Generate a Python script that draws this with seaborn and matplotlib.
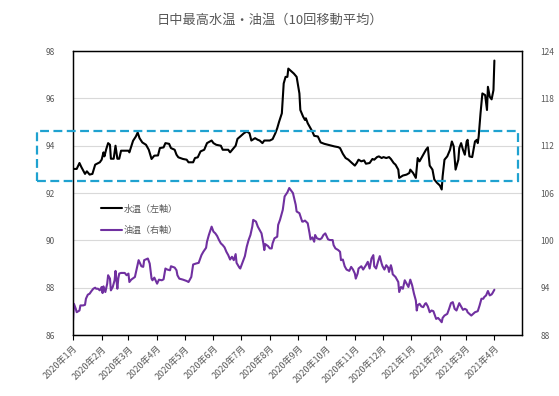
import seaborn as sns
import matplotlib.pyplot as plt
import pandas as pd
from matplotlib.patches import Rectangle

# 水温 (left axis)
water_dates = [
    '2020-01-01', '2020-01-05', '2020-01-08', '2020-01-10', '2020-01-14', '2020-01-16', '2020-01-19', '2020-01-22',
    '2020-01-25', '2020-01-30', '2020-02-01', '2020-02-03', '2020-02-04', '2020-02-06', '2020-02-08', '2020-02-10',
    '2020-02-11', '2020-02-14', '2020-02-16', '2020-02-18', '2020-02-20', '2020-02-22', '2020-03-01', '2020-03-02',
    '2020-03-06', '2020-03-09', '2020-03-11', '2020-03-13', '2020-03-16', '2020-03-20', '2020-03-23', '2020-03-26',
    '2020-03-29', '2020-04-02', '2020-04-04', '2020-04-08', '2020-04-10', '2020-04-14', '2020-04-16', '2020-04-20',
    '2020-04-22', '2020-04-24', '2020-04-29', '2020-05-03', '2020-05-05', '2020-05-10', '2020-05-12', '2020-05-15',
    '2020-05-18', '2020-05-22', '2020-05-25', '2020-05-30', '2020-06-01', '2020-06-04', '2020-06-09', '2020-06-11',
    '2020-06-17', '2020-06-19', '2020-06-22', '2020-06-25', '2020-06-27', '2020-06-30', '2020-07-04', '2020-07-07',
    '2020-07-10', '2020-07-12', '2020-07-16', '2020-07-19', '2020-07-21', '2020-07-24', '2020-07-26', '2020-08-01',
    '2020-08-04', '2020-08-07', '2020-08-09', '2020-08-11', '2020-08-14', '2020-08-16', '2020-08-18', '2020-08-20',
    '2020-08-21', '2020-08-23', '2020-08-27', '2020-08-30', '2020-09-02', '2020-09-03', '2020-09-06', '2020-09-08',
    '2020-09-09', '2020-09-11', '2020-09-13', '2020-09-16', '2020-09-18', '2020-09-22', '2020-09-25', '2020-09-29',
    '2020-10-03', '2020-10-07', '2020-10-10', '2020-10-14', '2020-10-16', '2020-10-19', '2020-10-22', '2020-10-25',
    '2020-10-28', '2020-11-01', '2020-11-03', '2020-11-05', '2020-11-08', '2020-11-11', '2020-11-13', '2020-11-17',
    '2020-11-20', '2020-11-22', '2020-11-25', '2020-11-27', '2020-11-30', '2020-12-02', '2020-12-05', '2020-12-08',
    '2020-12-10', '2020-12-13', '2020-12-15', '2020-12-18', '2020-12-19', '2020-12-23', '2020-12-27', '2020-12-30',
    '2020-12-31', '2021-01-03', '2021-01-06', '2021-01-08', '2021-01-10', '2021-01-13', '2021-01-17', '2021-01-19',
    '2021-01-21', '2021-01-24', '2021-01-26', '2021-01-29', '2021-02-01', '2021-02-03', '2021-02-04', '2021-02-06',
    '2021-02-09', '2021-02-12', '2021-02-14', '2021-02-16', '2021-02-18', '2021-02-21', '2021-02-22', '2021-02-24',
    '2021-02-26', '2021-02-28', '2021-03-02', '2021-03-03', '2021-03-05', '2021-03-08', '2021-03-11', '2021-03-13',
    '2021-03-14', '2021-03-15', '2021-03-17', '2021-03-19', '2021-03-22', '2021-03-24', '2021-03-25', '2021-03-27',
    '2021-03-29', '2021-03-31', '2021-04-01',
]
water_temp = [
    93.02, 93.02, 93.27, 93.10, 92.81, 92.92, 92.78, 92.81,
    93.20, 93.30, 93.41, 93.72, 93.55, 93.86, 94.11, 94.04,
    93.45, 93.45, 94.00, 93.45, 93.45, 93.79, 93.79, 93.72,
    94.21, 94.39, 94.56, 94.32, 94.14, 94.04, 93.83, 93.44,
    93.58, 93.59, 93.90, 93.93, 94.11, 94.08, 93.90, 93.83,
    93.62, 93.51, 93.44, 93.41, 93.30, 93.30, 93.48, 93.51,
    93.76, 93.83, 94.11, 94.22, 94.11, 94.04, 94.00, 93.83,
    93.83, 93.72, 93.86, 94.00, 94.29, 94.39, 94.53, 94.60,
    94.53, 94.22, 94.32, 94.25, 94.22, 94.11, 94.22, 94.22,
    94.28, 94.53, 94.74, 95.01, 95.37, 96.63, 96.91, 96.91,
    97.26, 97.19, 97.05, 96.91, 96.21, 95.51, 95.23, 95.09,
    95.16, 94.95, 94.81, 94.60, 94.42, 94.39, 94.14, 94.08,
    94.04, 94.00, 93.97, 93.94, 93.90, 93.66, 93.48, 93.41,
    93.30, 93.16, 93.27, 93.41, 93.34, 93.38, 93.24, 93.27,
    93.44, 93.41, 93.52, 93.55, 93.48, 93.52, 93.48, 93.52,
    93.44, 93.27, 93.20, 92.99, 92.64, 92.74, 92.78, 92.85,
    92.99, 92.85, 92.64, 93.48, 93.34, 93.55, 93.83, 93.93,
    93.16, 92.99, 92.57, 92.43, 92.32, 92.15, 92.71, 93.41,
    93.55, 93.83, 94.18, 93.97, 92.99, 93.41, 93.90, 94.11,
    93.83, 93.62, 94.18, 94.25, 93.55, 93.52, 94.18, 94.25,
    94.11, 94.39, 95.37, 96.21, 96.14, 95.51, 96.49, 96.07,
    95.96, 96.35, 97.60,
]

# 油温 (right axis)
oil_dates = [
    '2020-01-01', '2020-01-02', '2020-01-04', '2020-01-05', '2020-01-08', '2020-01-09', '2020-01-12', '2020-01-14',
    '2020-01-15', '2020-01-17', '2020-01-19', '2020-01-21', '2020-01-23', '2020-01-25', '2020-01-26', '2020-01-28',
    '2020-01-30', '2020-02-01', '2020-02-02', '2020-02-03', '2020-02-05', '2020-02-07', '2020-02-08', '2020-02-10',
    '2020-02-11', '2020-02-13', '2020-02-15', '2020-02-16', '2020-02-18', '2020-02-19', '2020-02-20', '2020-02-22',
    '2020-02-26', '2020-02-28', '2020-03-01', '2020-03-02', '2020-03-04', '2020-03-08', '2020-03-10', '2020-03-12',
    '2020-03-15', '2020-03-17', '2020-03-18', '2020-03-22', '2020-03-24', '2020-03-26', '2020-03-27', '2020-03-29',
    '2020-04-01', '2020-04-03', '2020-04-06', '2020-04-08', '2020-04-10', '2020-04-12', '2020-04-15', '2020-04-16',
    '2020-04-20', '2020-04-22', '2020-04-23', '2020-04-25', '2020-04-29', '2020-05-03', '2020-05-05', '2020-05-08',
    '2020-05-10', '2020-05-13', '2020-05-16', '2020-05-19', '2020-05-21', '2020-05-24', '2020-05-25', '2020-05-27',
    '2020-05-29', '2020-05-30', '2020-06-01', '2020-06-03', '2020-06-05', '2020-06-07', '2020-06-09', '2020-06-11',
    '2020-06-13', '2020-06-15', '2020-06-17', '2020-06-19', '2020-06-21', '2020-06-23', '2020-06-25', '2020-06-26',
    '2020-06-29', '2020-06-30', '2020-07-02', '2020-07-05', '2020-07-07', '2020-07-09', '2020-07-11', '2020-07-13',
    '2020-07-14', '2020-07-17', '2020-07-19', '2020-07-21', '2020-07-23', '2020-07-25', '2020-07-26', '2020-07-27',
    '2020-07-30', '2020-08-01', '2020-08-03', '2020-08-04', '2020-08-06', '2020-08-09', '2020-08-10', '2020-08-12',
    '2020-08-14', '2020-08-15', '2020-08-17', '2020-08-20', '2020-08-22', '2020-08-26', '2020-08-29', '2020-08-30',
    '2020-09-02', '2020-09-05', '2020-09-06', '2020-09-08', '2020-09-11', '2020-09-13', '2020-09-14', '2020-09-16',
    '2020-09-18', '2020-09-19', '2020-09-21', '2020-09-24', '2020-09-26', '2020-09-28', '2020-09-30', '2020-10-03',
    '2020-10-05', '2020-10-08', '2020-10-09', '2020-10-11', '2020-10-14', '2020-10-16', '2020-10-17', '2020-10-19',
    '2020-10-21', '2020-10-23', '2020-10-26', '2020-10-28', '2020-10-30', '2020-11-01', '2020-11-02', '2020-11-04',
    '2020-11-05', '2020-11-08', '2020-11-10', '2020-11-13', '2020-11-15', '2020-11-17', '2020-11-19', '2020-11-21',
    '2020-11-22', '2020-11-24', '2020-11-26', '2020-11-28', '2020-11-30', '2020-12-01', '2020-12-03', '2020-12-05',
    '2020-12-07', '2020-12-08', '2020-12-10', '2020-12-11', '2020-12-12', '2020-12-15', '2020-12-18', '2020-12-19',
    '2020-12-21', '2020-12-23', '2020-12-25', '2020-12-27', '2020-12-29', '2020-12-31', '2021-01-02', '2021-01-04',
    '2021-01-06', '2021-01-07', '2021-01-08', '2021-01-10', '2021-01-12', '2021-01-14', '2021-01-16', '2021-01-17',
    '2021-01-19', '2021-01-21', '2021-01-23', '2021-01-25', '2021-01-27', '2021-01-28', '2021-01-30', '2021-02-01',
    '2021-02-03', '2021-02-04', '2021-02-06', '2021-02-09', '2021-02-11', '2021-02-13', '2021-02-15', '2021-02-17',
    '2021-02-19', '2021-02-21', '2021-02-22', '2021-02-24', '2021-02-26', '2021-02-28', '2021-03-02', '2021-03-03',
    '2021-03-05', '2021-03-07', '2021-03-09', '2021-03-11', '2021-03-14', '2021-03-16', '2021-03-18', '2021-03-20',
    '2021-03-21', '2021-03-23', '2021-03-25', '2021-03-27', '2021-03-29', '2021-03-30', '2021-04-01',
]
oil_temp = [
    89.83, 91.96, 91.32, 90.89, 91.11, 91.75, 91.75, 91.83,
    92.60, 93.11, 93.24, 93.58, 93.87, 94.00, 93.87, 93.87,
    93.66, 94.09, 93.32, 94.17, 93.45, 94.51, 95.58, 95.15,
    93.66, 94.09, 94.94, 96.13, 93.87, 95.15, 95.79, 95.87,
    95.87, 95.58, 95.79, 94.72, 95.02, 95.36, 96.43, 97.49,
    96.72, 96.64, 97.49, 97.70, 97.06, 95.15, 94.94, 95.28,
    94.51, 95.02, 94.94, 95.06, 96.43, 96.30, 96.21, 96.72,
    96.55, 96.21, 95.58, 95.15, 95.02, 94.85, 94.72, 95.36,
    96.94, 97.06, 97.15, 98.13, 98.55, 99.06, 99.83, 100.68,
    101.40, 101.74, 101.11, 100.89, 100.55, 100.04, 99.62, 99.40,
    99.11, 98.55, 98.13, 97.57, 97.92, 97.49, 98.26, 97.15,
    96.55, 96.43, 97.06, 98.00, 99.19, 100.04, 100.68, 101.74,
    102.60, 102.38, 101.74, 101.32, 100.89, 99.62, 98.77, 99.53,
    99.28, 98.98, 98.98, 99.62, 100.26, 100.47, 101.96, 102.60,
    103.45, 103.87, 105.57, 106.09, 106.64, 106.00, 104.51, 103.66,
    103.45, 102.38, 102.38, 102.51, 102.17, 100.89, 100.13, 100.38,
    99.83, 100.68, 100.26, 100.13, 100.26, 100.68, 100.89, 100.13,
    100.04, 100.04, 99.40, 98.98, 98.77, 98.55, 97.49, 97.57,
    96.72, 96.30, 96.13, 96.64, 96.30, 95.79, 95.15, 95.79,
    96.43, 96.72, 96.30, 96.85, 97.28, 96.43, 97.70, 98.13,
    96.72, 96.43, 97.28, 98.00, 97.06, 96.72, 96.30, 96.85,
    96.55, 96.00, 96.85, 96.43, 95.70, 95.36, 94.72, 93.45,
    94.09, 93.87, 94.94, 94.51, 94.09, 95.02, 94.30, 93.24,
    92.38, 91.11, 91.75, 91.96, 91.62, 91.53, 91.96, 92.04,
    91.62, 90.89, 91.11, 91.02, 90.34, 90.04, 90.17, 89.92,
    89.62, 90.17, 90.47, 90.68, 91.32, 92.04, 92.17, 91.32,
    91.11, 91.75, 92.04, 91.62, 91.19, 91.32, 91.19, 90.89,
    90.68, 90.47, 90.68, 90.89, 91.02, 91.75, 92.60, 92.60,
    92.81, 93.02, 93.58, 93.02, 93.15, 93.32, 93.74,
]

left_ticks = [86, 88, 90, 92, 94, 96, 98]
right_ticks = [88, 94, 100, 106, 112, 118, 124]
month_ticks = pd.date_range('2020-01-01', '2021-04-01', freq='MS')
month_labels = [f'{d.year}年{d.month}月' for d in month_ticks]

title = '日中最高水温・油温（10回移動平均）'
water_label = '水温（左軸）'
oil_label = '油温（右軸）'

sns.set_theme(style='white')
plt.rcParams['font.family'] = ['Noto Sans CJK JP', 'DejaVu Sans']
grey = '#595959'

fig = plt.figure(figsize=(5.59, 3.96), dpi=100)
ax = fig.add_axes([0.1306, 0.154, 0.8034, 0.717])
ax2 = ax.twinx()

sns.lineplot(x=pd.to_datetime(water_dates), y=water_temp, ax=ax, color='black',
             linewidth=1.5, label=water_label, legend=False)
sns.lineplot(x=pd.to_datetime(oil_dates), y=oil_temp, ax=ax2, color='#7030a0',
             linewidth=1.5, label=oil_label, legend=False)

ax.set_xlim(pd.Timestamp('2020-01-01'), pd.Timestamp('2021-05-01'))
ax.set_ylim(86, 98)
ax2.set_ylim(88, 124)
ax.set_yticks(left_ticks)
ax2.set_yticks(right_ticks)
ax.set_xticks(month_ticks)
ax.set_xticklabels(month_labels, rotation=45, ha='right', rotation_mode='anchor')
ax.set_xlabel('')
ax.set_ylabel('')
ax2.set_ylabel('')

ax.grid(axis='y', color='#d9d9d9', linewidth=0.8)
ax.grid(axis='x', visible=False)
ax2.grid(False)
ax.tick_params(axis='x', bottom=True, direction='out', length=3.5, width=0.8,
               color='black', labelsize=6.5, labelcolor=grey, pad=3)
ax.tick_params(axis='y', left=False, labelsize=6, labelcolor=grey, pad=7)
ax2.tick_params(axis='y', right=False, labelsize=6, labelcolor=grey, pad=7)
for a in (ax, ax2):
    for s in a.spines.values():
        s.set_color('black')
        s.set_linewidth(0.9)

h1, l1 = ax.get_legend_handles_labels()
h2, l2 = ax2.get_legend_handles_labels()
ax2.legend(h1 + h2, l1 + l2, loc='upper left', bbox_to_anchor=(0.062, 0.46),
           frameon=False, fontsize=6.5, labelcolor=grey, handlelength=2.3,
           handletextpad=0.2, labelspacing=1.35, borderpad=0, borderaxespad=0)

fig.text(0.483, 0.949, title, ha='center', va='center', fontsize=9.5, color=grey)

# dashed highlight box
fig.add_artist(Rectangle((0.066, 0.543), 0.861, 0.125, transform=fig.transFigure,
                         fill=False, edgecolor='#1fa2d0', linewidth=1.6,
                         linestyle=(0, (4, 2)), zorder=10, clip_on=False))

fig.savefig('out.png', dpi=100)
